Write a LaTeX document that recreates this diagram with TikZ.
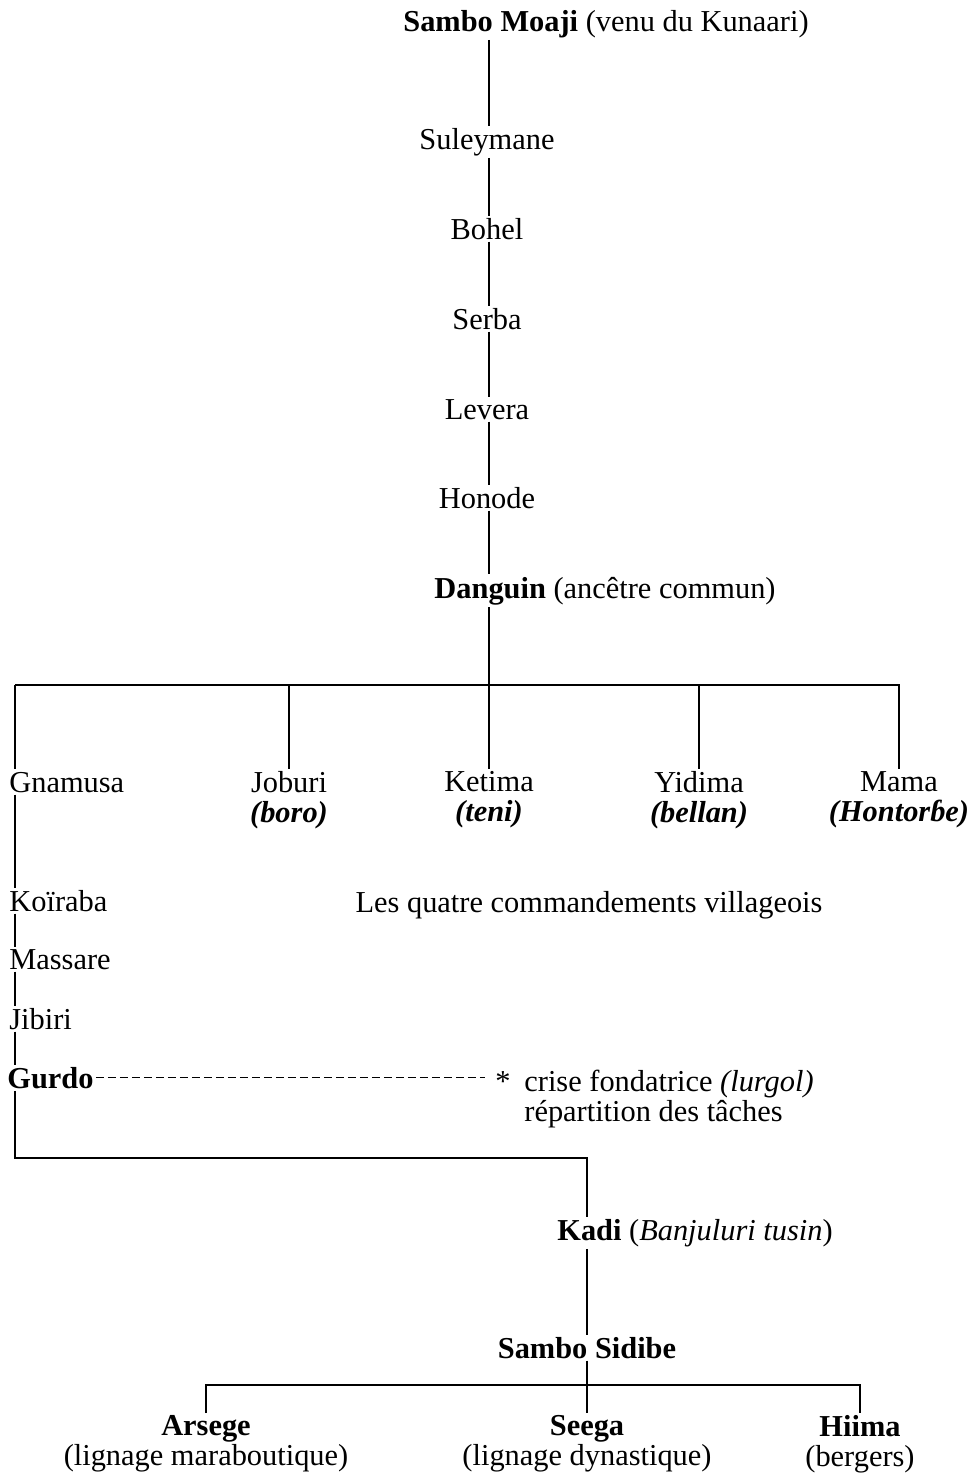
\documentclass[tikz,border=0pt]{standalone}
\usepackage{fontspec}
\setmainfont{Liberation Serif}
\usetikzlibrary{positioning,calc}

\begin{document}
\begin{tikzpicture}[
  x=0.5pt, y=-0.5pt,
  person/.style={inner sep=1pt, font=\fontsize{15.2}{15}\selectfont},
  pair/.style={person, anchor=north, align=center},
  link/.style={line width=0.7pt},
  tie/.style={link, dash pattern=on 4pt off 2pt}
]
\useasboundingbox (0,0) rectangle (971,1479);
% line of ancestors
\coordinate (spine) at (489,0);
\node[person, anchor=base] (moaji) at (606,31) {\textbf{Sambo Moaji} (venu du Kunaari)};
\node[person, anchor=base] (suleymane) at (487,149) {Suleymane};
\node[person, anchor=base] (bohel) at (487,239) {Bohel};
\node[person, anchor=base] (serba) at (487,329) {Serba};
\node[person, anchor=base] (levera) at (487,419) {Levera};
\node[person, anchor=base] (honode) at (487,508) {Honode};
\node[person, anchor=base] (danguin) at (605,598) {\textbf{Danguin} (ancêtre commun)};
\foreach \a/\b in {moaji/suleymane,suleymane/bohel,bohel/serba,serba/levera,levera/honode,honode/danguin} {\draw[link] (\a.south -| spine) -- (\b.north -| spine);}

% the five sons
\coordinate (barL) at (15,685);
\coordinate (barR) at (900,685);
\node[person, anchor=base west] (gnamusa) at (7,792) {Gnamusa};
\node[pair] (joburi) at (289,769) {Joburi\\\textbf{\textit{(boro)}}};
\node[pair] (ketima) at (489,769) {Ketima\\\textbf{\textit{(teni)}}};
\node[pair] (yidima) at (699,769) {Yidima\\\textbf{\textit{(bellan)}}};
\node[pair] (mama) at (899,769) {Mama\\\textbf{\textit{(Hontorɓe)}}};
\node[person, anchor=base] (quatre) at (589,912) {Les quatre commandements villageois};
\draw[link] (danguin.south -| spine) -- (spine |- barL);
\draw[link] (barL) -- (barR);
\draw[link] (barL) -- (barL |- gnamusa.north);
\foreach \x in {joburi,ketima,yidima,mama} {\draw[link] (barL -| \x.north) -- (\x.north);}

% Gnamusa branch
\coordinate (trunk) at (15,0);
\node[person, anchor=base west] (koiraba) at (7,911) {Koïraba};
\node[person, anchor=base west] (massare) at (7,969) {Massare};
\node[person, anchor=base west] (jibiri) at (7,1029) {Jibiri};
\node[person, anchor=base west] (gurdo) at (5,1088) {\textbf{Gurdo}};
\foreach \a/\b in {gnamusa/koiraba,koiraba/massare,massare/jibiri,jibiri/gurdo} {\draw[link] (\a.south -| trunk) -- (\b.north -| trunk);}
\node[person, anchor=base, inner xsep=5pt] (star) at (503,1091) {*};
\node[person, anchor=north west, align=left] (crise) at (522,1068) {crise fondatrice \textit{(lurgol)}\\répartition des tâches};
\draw[tie] (gurdo.east) -- (gurdo.east -| star.west);

% Kadi and Sambo Sidibe
\coordinate (kspine) at (587,1158);
\coordinate (sbar) at (587,1385);
\node[person, anchor=base] (kadi) at (695,1240) {\textbf{Kadi} (\textit{Banjuluri tusin})};
\node[person, anchor=base] (sidibe) at (587,1358) {\textbf{Sambo Sidibe}};
\node[pair] (arsege) at (206,1413) {\textbf{Arsege}\\(lignage maraboutique)};
\node[pair] (seega) at (587,1413) {\textbf{Seega}\\(lignage dynastique)};
\node[pair] (hiima) at (860,1413) {\textbf{Hiima}\\(bergers)};
\draw[link] (gurdo.south -| trunk) |- (kspine) -- (kspine |- kadi.north);
\draw[link] (kspine |- kadi.south) -- (sidibe.north);
\draw[link] (sidibe.south) -- (seega.north);
\draw[link] (arsege.north) -- (arsege.north |- sbar) -- (hiima.north |- sbar) -- (hiima.north);
\end{tikzpicture}
\end{document}
